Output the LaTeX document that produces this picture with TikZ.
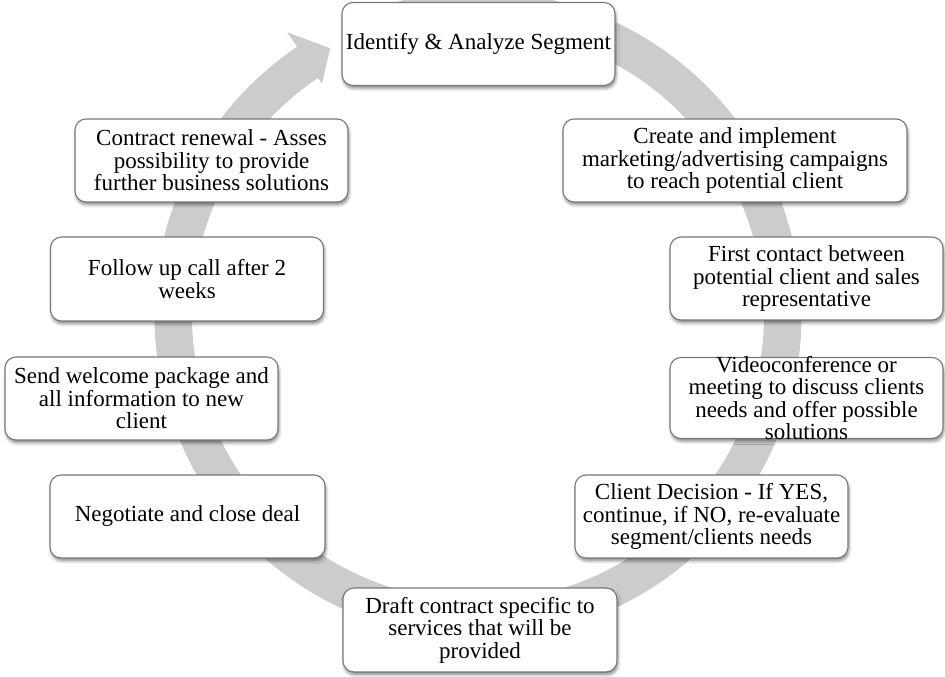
\documentclass[tikz,border=0pt]{standalone}
\usepackage{fontspec}
\setmainfont{Liberation Serif}
\usetikzlibrary{shadows.blur}
\definecolor{ringgray}{RGB}{204,204,204}
\definecolor{edgegray}{RGB}{120,120,120}
\begin{document}
\begin{tikzpicture}[x=1pt,y=1pt,
  stagebox/.style={draw=edgegray, line width=1.1pt, fill=white,
    rounded corners=11pt, align=center, inner xsep=2pt, inner ysep=2pt,
    minimum width=273pt, minimum height=83pt,
    font=\fontsize{23}{22.5}\selectfont,
    blur shadow={shadow xshift=1pt, shadow yshift=-3pt,
      shadow blur radius=3pt, shadow opacity=45}},
]
\useasboundingbox (0,0) rectangle (945,677);

% circular flow arrow running clockwise behind the stages
\begin{scope}[shift={(478,362)}]
  \fill[ringgray] (105:323.5) arc[start angle=105, end angle=-236, radius=323.5]
    -- (-236:341) -- (-241:305) -- (-236:279) -- (-236:286)
    arc[start angle=-236, end angle=105, radius=286] -- cycle;
\end{scope}

% stages of the sales cycle
\node[stagebox] (s1) at (478.5,633) {Identify \& Analyze Segment};
\node[stagebox, minimum width=344pt] (s2) at (735,516.5)
  {Create and implement\\marketing/advertising campaigns\\to reach potential client};
\node[stagebox] (s3) at (806.5,398.5)
  {First contact between\\potential client and sales\\representative};
\node[stagebox, minimum height=81pt, inner ysep=-6pt] (s4) at (806.5,279)
  {Videoconference or\\meeting to discuss clients\\needs and offer possible\\solutions};
\node[stagebox] (s5) at (711.5,160.5)
  {Client Decision - If YES,\\continue, if NO, re-evaluate\\segment/clients needs};
\node[stagebox, minimum width=274pt, minimum height=84pt] (s6) at (480,47)
  {Draft contract specific to\\services that will be\\provided};
\node[stagebox, minimum width=275pt] (s7) at (187.5,160.5)
  {Negotiate and close deal};
\node[stagebox] (s8) at (141.5,278.5)
  {Send welcome package and\\all information to new\\client};
\node[stagebox, minimum height=84pt] (s9) at (187,398)
  {Follow up call after 2\\weeks};
\node[stagebox] (s10) at (211.5,516.5)
  {Contract renewal - Asses\\possibility to provide\\further business solutions};
\end{tikzpicture}
\end{document}
